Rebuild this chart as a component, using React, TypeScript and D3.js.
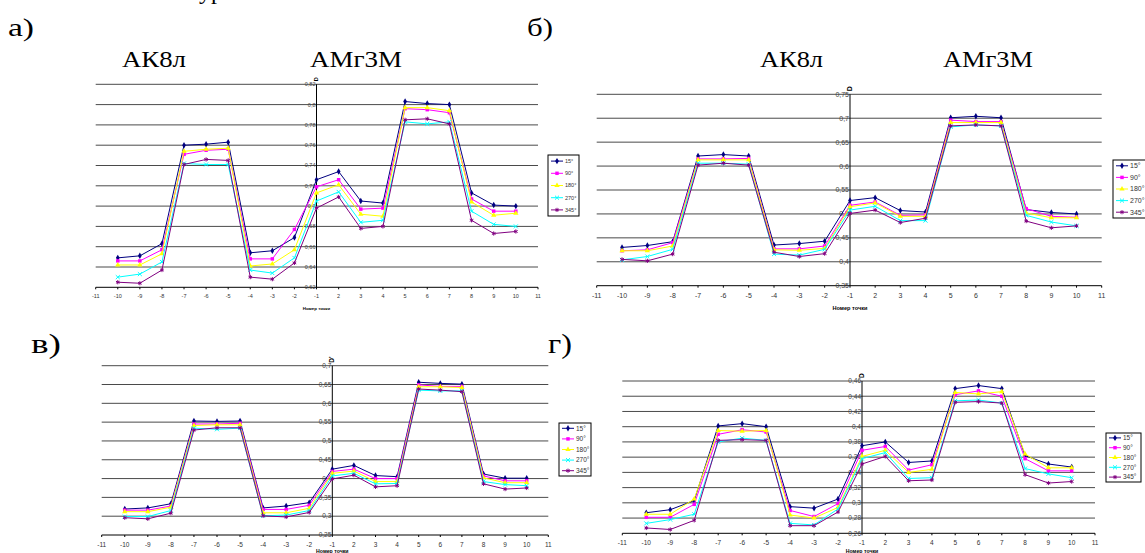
import React from 'react';
import * as d3 from 'd3';

// x axis: tick labels and measuring points
const tickLabels = ["-11", "-10", "-9", "-8", "-7", "-6", "-5", "-4", "-3", "-2", "-1", "2", "3", "4", "5", "6", "7", "8", "9", "10", "11"];
const pointLabels = ["-10", "-9", "-8", "-7", "-6", "-5", "-4", "-3", "-2", "-1", "2", "3", "4", "5", "6", "7", "8", "9", "10"];
const seriesNames = ["15°", "90°", "180°", "270°", "345°"];

// а)
const a15 = [0.649, 0.651, 0.663, 0.760, 0.761, 0.763, 0.654, 0.656, 0.669, 0.726, 0.734, 0.705, 0.703, 0.803, 0.801, 0.800, 0.713, 0.701, 0.700];
const a90 = [0.646, 0.646, 0.657, 0.751, 0.755, 0.756, 0.648, 0.648, 0.677, 0.719, 0.726, 0.697, 0.698, 0.796, 0.795, 0.792, 0.707, 0.695, 0.695];
const a180 = [0.642, 0.642, 0.653, 0.754, 0.756, 0.757, 0.641, 0.643, 0.657, 0.713, 0.721, 0.692, 0.690, 0.797, 0.797, 0.794, 0.704, 0.691, 0.693];
const a270 = [0.630, 0.633, 0.645, 0.742, 0.741, 0.741, 0.637, 0.634, 0.649, 0.705, 0.714, 0.684, 0.686, 0.783, 0.781, 0.783, 0.695, 0.682, 0.680];
const a345 = [0.625, 0.624, 0.637, 0.741, 0.746, 0.745, 0.630, 0.628, 0.644, 0.698, 0.709, 0.678, 0.680, 0.785, 0.786, 0.781, 0.686, 0.673, 0.675];
const aTicks = [0.62, 0.64, 0.66, 0.68, 0.7, 0.72, 0.74, 0.76, 0.78, 0.8, 0.82];

// б)
const b15 = [0.430, 0.434, 0.442, 0.621, 0.624, 0.621, 0.435, 0.438, 0.443, 0.528, 0.534, 0.507, 0.504, 0.701, 0.704, 0.701, 0.509, 0.503, 0.500];
const b90 = [0.423, 0.425, 0.440, 0.615, 0.615, 0.616, 0.427, 0.427, 0.433, 0.518, 0.525, 0.497, 0.498, 0.696, 0.693, 0.693, 0.511, 0.495, 0.493];
const b180 = [0.423, 0.423, 0.433, 0.613, 0.613, 0.613, 0.425, 0.424, 0.428, 0.515, 0.523, 0.495, 0.495, 0.691, 0.691, 0.691, 0.502, 0.492, 0.492];
const b270 = [0.404, 0.411, 0.426, 0.606, 0.606, 0.604, 0.416, 0.414, 0.426, 0.508, 0.516, 0.486, 0.486, 0.682, 0.686, 0.684, 0.497, 0.483, 0.475];
const b345 = [0.405, 0.402, 0.416, 0.602, 0.606, 0.602, 0.420, 0.411, 0.417, 0.501, 0.508, 0.482, 0.491, 0.684, 0.686, 0.684, 0.485, 0.471, 0.475];
const bTicks = [0.35, 0.4, 0.45, 0.5, 0.55, 0.6, 0.65, 0.7, 0.75];

// в)
const c15 = [0.319, 0.322, 0.333, 0.553, 0.552, 0.553, 0.322, 0.327, 0.336, 0.425, 0.435, 0.408, 0.405, 0.656, 0.653, 0.651, 0.412, 0.401, 0.401];
const c90 = [0.316, 0.316, 0.327, 0.545, 0.545, 0.547, 0.318, 0.318, 0.329, 0.419, 0.425, 0.400, 0.400, 0.649, 0.645, 0.645, 0.407, 0.394, 0.394];
const c180 = [0.312, 0.312, 0.324, 0.541, 0.543, 0.543, 0.309, 0.309, 0.321, 0.414, 0.420, 0.392, 0.392, 0.644, 0.644, 0.642, 0.402, 0.389, 0.389];
const c270 = [0.299, 0.299, 0.315, 0.534, 0.531, 0.534, 0.301, 0.303, 0.315, 0.407, 0.414, 0.386, 0.387, 0.635, 0.633, 0.633, 0.392, 0.384, 0.381];
const c345 = [0.296, 0.293, 0.308, 0.529, 0.535, 0.535, 0.301, 0.298, 0.310, 0.399, 0.409, 0.378, 0.381, 0.638, 0.635, 0.631, 0.386, 0.372, 0.375];
const cTicks = [0.25, 0.3, 0.35, 0.4, 0.45, 0.5, 0.55, 0.6, 0.65, 0.7];

// г)
const d15 = [0.287, 0.291, 0.303, 0.401, 0.404, 0.400, 0.295, 0.293, 0.305, 0.375, 0.380, 0.353, 0.355, 0.450, 0.454, 0.450, 0.362, 0.351, 0.347];
const d90 = [0.281, 0.281, 0.298, 0.390, 0.396, 0.393, 0.290, 0.282, 0.299, 0.369, 0.374, 0.343, 0.350, 0.442, 0.447, 0.440, 0.358, 0.342, 0.342];
const d180 = [0.285, 0.285, 0.305, 0.395, 0.394, 0.395, 0.284, 0.280, 0.294, 0.361, 0.369, 0.340, 0.344, 0.445, 0.443, 0.446, 0.364, 0.346, 0.346];
const d270 = [0.273, 0.278, 0.285, 0.380, 0.385, 0.382, 0.273, 0.271, 0.292, 0.358, 0.366, 0.332, 0.333, 0.434, 0.435, 0.431, 0.345, 0.338, 0.333];
const d345 = [0.267, 0.265, 0.277, 0.382, 0.383, 0.382, 0.270, 0.270, 0.288, 0.351, 0.361, 0.329, 0.330, 0.432, 0.433, 0.431, 0.337, 0.326, 0.328];
const dTicks = [0.26, 0.28, 0.3, 0.32, 0.34, 0.36, 0.38, 0.4, 0.42, 0.44, 0.46];

const colors = ["#000080", "#ff00ff", "#ffff00", "#00ffff", "#800080"];
const symbols = [d3.symbolDiamond, d3.symbolSquare, d3.symbolTriangle, (d3 as any).symbolTimes || d3.symbolCross, (d3 as any).symbolAsterisk || d3.symbolCross];
const markerFilled = [true, true, true, false, false];

const SANS = "'Liberation Sans', Arial, sans-serif";
const SERIF = "'Liberation Serif', 'Times New Roman', serif";

const fmt = (v: number) => String(+v.toFixed(2)).replace('.', ',');

function Marker({ i, x, y, size }: { i: number; x: number; y: number; size: number }) {
  const p = d3.symbol(symbols[i], size)() || '';
  return markerFilled[i]
    ? <path d={p} transform={`translate(${x},${y})`} fill={colors[i]} />
    : <path d={p} transform={`translate(${x},${y})`} fill="none" stroke={colors[i]} strokeWidth={1} />;
}

type PanelProps = {
  series: number[][];
  ticks: number[];
  xs: [number, number, number];
  ys: [number, number];
  fs: number;
  legend: [number, number, number, number];
  yTitle: string;
  titleY: number;
};

function Panel({ series, ticks, xs, ys, fs, legend, yTitle, titleY }: PanelProps) {
  const xIdx = d3.scaleLinear().domain([0, 10, 20]).range(xs);
  const x = (lab: string) => xIdx(tickLabels.indexOf(lab));
  const y = d3.scaleLinear().domain([ticks[0], ticks[ticks.length - 1]]).range([ys[1], ys[0]]);
  const axisX = xs[1];
  const line = d3.line<number>()
    .x((_, i) => x(pointLabels[i]))
    .y((d) => y(d));
  const [lx, ly, lw, lh] = legend;
  const step = lh / 5;

  return (
    <g>
      {ticks.map((t, k) => (
        <line key={'g' + k} x1={xs[0]} x2={xs[2]} y1={y(t)} y2={y(t)}
          stroke={k === 0 ? '#000' : '#4a4a4a'} strokeWidth={1} />
      ))}
      {tickLabels.map((lab, k) => (
        <g key={'xt' + k}>
          <line x1={x(lab)} x2={x(lab)} y1={ys[1]} y2={ys[1] + 2} stroke="#000" />
          <text x={x(lab)} y={ys[1] + fs + 5} fontSize={fs} fontFamily={SANS} textAnchor="middle" fill="#333">{lab}</text>
        </g>
      ))}
      <line x1={axisX} x2={axisX} y1={ys[0]} y2={ys[1]} stroke="#000" strokeWidth={1} />
      {ticks.map((t, k) => (
        <text key={'yt' + k} x={axisX - 1} y={y(t) + fs * 0.35} fontSize={fs} fontFamily={SANS} textAnchor="end" fill="#444">{fmt(t)}</text>
      ))}
      <text transform={`translate(${axisX + fs * 0.3},${ys[0] - 3}) rotate(-90)`} fontSize={fs} fontWeight="bold" fontFamily={SANS} textAnchor="start">{yTitle}</text>
      <text x={axisX} y={titleY} fontSize={fs * 0.8} fontWeight="bold" fontFamily={SANS} textAnchor="middle">Номер точки</text>

      {series.map((s, i) => (
        <g key={'s' + i}>
          <path d={line(s) || ''} fill="none" stroke={colors[i]} strokeWidth={1} />
          {s.map((v, j) => <Marker key={j} i={i} x={x(pointLabels[j])} y={y(v)} size={12} />)}
        </g>
      ))}

      <rect x={lx} y={ly} width={lw} height={lh} fill="#fff" stroke="#000" strokeWidth={1} />
      {seriesNames.map((n, i) => {
        const yy = ly + step * (i + 0.5);
        return (
          <g key={'l' + i}>
            <line x1={lx + 3} x2={lx + 15} y1={yy} y2={yy} stroke={colors[i]} strokeWidth={1} />
            <Marker i={i} x={lx + 9} y={yy} size={12} />
            <text x={lx + 17} y={yy + fs * 0.35} fontSize={fs} fontFamily={SANS} fill="#333">{n}</text>
          </g>
        );
      })}
    </g>
  );
}

export default function App() {
  const head = { fontFamily: SERIF, fontWeight: 400, lengthAdjust: 'spacingAndGlyphs' } as any;
  return (
    <svg width={1145} height={553} style={{ position: 'absolute', left: 0, top: 0, background: '#fff' }}>
      <rect width={1145} height={553} fill="#fff" />
      <text x={199} y={-1} fontSize={24} {...head}>ур</text>
      <text x={8} y={36} fontSize={25} textLength={26} {...head}>а)</text>
      <text x={527} y={36} fontSize={25} textLength={26} {...head}>б)</text>
      <text x={122} y={67} fontSize={23} textLength={64} {...head}>АК8л</text>
      <text x={310} y={67} fontSize={23} textLength={92} {...head}>АМг3М</text>
      <text x={760} y={67} fontSize={23} textLength={63} {...head}>АК8л</text>
      <text x={943} y={67} fontSize={23} textLength={90} {...head}>АМг3М</text>
      <text x={31} y={353} fontSize={27} textLength={30} {...head}>в)</text>
      <text x={548} y={353} fontSize={27} textLength={24} {...head}>г)</text>

      <Panel series={[a15, a90, a180, a270, a345]} ticks={aTicks} xs={[95.7, 316.5, 538]} ys={[84.3, 287.3]}
        fs={5.5} legend={[548, 155, 31, 61]} yTitle="D" titleY={310} />
      <Panel series={[b15, b90, b180, b270, b345]} ticks={bTicks} xs={[596.7, 850, 1101.7]} ys={[94.3, 285.7]}
        fs={7} legend={[1113, 160, 40, 58]} yTitle="D" titleY={310} />
      <Panel series={[c15, c90, c180, c270, c345]} ticks={cTicks} xs={[101.7, 332.3, 548.3]} ys={[365.7, 535]}
        fs={6.5} legend={[559, 423, 32, 53]} yTitle="D'" titleY={553} />
      <Panel series={[d15, d90, d180, d270, d345]} ticks={dTicks} xs={[622.3, 862, 1095]} ys={[381, 533.3]}
        fs={6.5} legend={[1106, 433, 35, 49]} yTitle="D" titleY={553} />
    </svg>
  );
}
